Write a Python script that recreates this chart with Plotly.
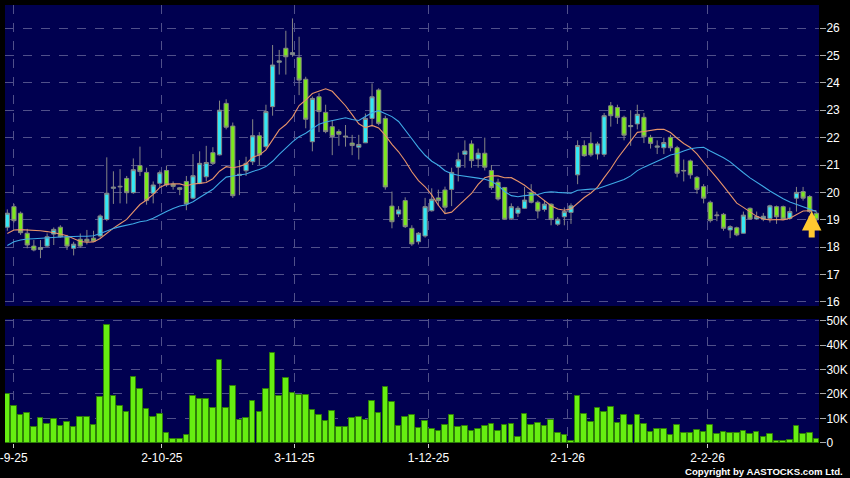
import plotly.graph_objects as go
import pandas as pd

# ---------------- data ----------------
opens = [18.73,19.48,19.24,18.51,18.04,17.92,18.04,18.48,18.73,18.38,
         17.96,18.29,18.29,18.33,18.41,19.01,20.15,20.2,20.51,19.99,
         20.98,20.73,19.97,20.33,20.8,20.3,20.17,20.4,19.79,20.33,
         20.57,21.45,21.37,23.25,22.42,20.62,20.79,21.12,22.07,21.67,
         23.13,24.75,25.26,25.03,24.93,24.13,21.85,23.49,22.92,22.4,
         22.22,22.02,21.8,21.65,21.81,22.7,23.74,22.7,19.5,19.21,
         19.7,18.69,18.2,18.41,19.33,19.8,20.09,20.11,20.92,21.39,
         21.77,21.22,21.43,20.8,20.37,20.18,19.05,19.24,19.42,20.0,
         19.64,19.38,19.57,18.84,19.11,19.27,20.64,21.71,21.79,21.4,
         21.39,23.16,23.1,22.74,22.4,22.5,22.74,22.01,21.65,21.63,
         22.01,21.63,20.78,21.15,20.55,20.21,19.64,19.15,19.2,18.63,
         18.71,18.51,19.42,19.03,19.03,19.05,19.48,19.48,19.05,19.79,
         20.03,19.85,19.24]
closes = [19.24,18.97,18.53,18.08,17.9,17.99,18.38,18.65,18.38,18.04,
          18.11,18.04,18.22,18.22,19.14,19.97,20.19,20.22,19.99,20.83,
          20.76,19.71,20.27,20.72,20.27,20.22,20.11,19.58,20.61,21.06,
          21.09,21.06,23.0,22.38,19.88,20.66,21.06,22.07,21.37,22.95,
          24.65,24.8,24.95,25.1,24.1,22.67,23.43,22.95,22.22,22.04,
          22.12,22.05,21.71,21.75,22.7,23.49,22.52,20.2,18.93,19.36,
          18.75,18.12,18.51,19.48,19.75,19.7,19.46,20.73,21.19,21.51,
          21.16,21.43,20.92,20.18,19.76,19.02,19.48,19.42,19.72,19.64,
          19.32,19.57,19.01,19.02,19.3,19.51,21.71,21.34,21.37,21.77,
          22.8,22.8,22.74,22.09,22.44,22.85,22.03,21.79,21.69,21.82,
          21.63,20.7,20.8,20.64,20.11,19.79,18.97,19.17,18.69,18.75,
          18.45,19.17,19.03,19.12,19.13,19.51,19.11,19.03,19.3,20.0,
          19.79,19.3,19.0]
highs = [19.38,19.58,19.3,18.67,18.26,18.26,18.5,18.72,18.8,18.45,
         18.2,18.5,18.63,18.6,19.2,21.28,20.77,20.85,20.6,21.24,
         21.67,20.9,20.4,20.8,20.98,20.4,20.2,20.6,21.4,21.5,
         21.7,21.65,23.35,23.4,22.55,21.18,21.3,22.67,22.2,23.2,
         25.38,25.2,25.9,26.35,25.68,24.22,23.5,23.62,23.2,22.64,
         22.3,22.46,22.1,22.1,22.88,23.98,23.8,22.8,20.03,19.5,
         19.82,18.8,18.55,19.8,20.15,20.1,20.21,20.9,21.45,21.9,
         21.9,21.6,22.0,21.0,20.5,20.2,19.6,19.5,20.2,20.3,
         19.7,19.7,19.6,19.1,19.45,19.6,21.9,21.9,22.2,21.85,
         22.9,23.3,23.2,22.8,23.0,23.2,22.9,22.1,21.9,22.0,
         22.1,21.7,21.2,21.2,20.6,20.3,19.7,19.3,19.25,18.8,
         18.75,19.3,19.45,19.3,19.25,19.55,19.52,19.52,19.45,20.2,
         20.2,19.9,19.3]
lows = [18.6,18.9,18.45,17.96,17.85,17.6,18.0,18.08,18.35,17.9,
        17.7,17.98,18.1,18.2,18.35,18.95,19.58,19.6,19.59,19.95,
        20.6,19.55,19.6,20.2,20.2,20.1,19.9,19.35,19.75,20.3,
        20.4,21.0,21.35,22.3,19.8,19.9,20.6,21.0,21.0,21.6,
        22.8,24.3,24.3,24.95,23.55,22.34,21.5,22.2,22.16,21.36,
        21.7,21.67,21.36,21.2,21.8,22.4,22.45,20.1,18.69,19.1,
        18.7,18.05,18.1,18.35,19.3,19.5,19.21,19.5,20.4,20.9,
        20.9,20.9,20.8,20.1,19.7,19.0,19.0,19.1,19.4,19.6,
        19.05,19.3,18.8,18.78,18.8,18.85,20.3,21.3,21.3,21.2,
        21.3,22.4,22.5,21.9,21.7,22.3,21.8,21.6,21.4,21.4,
        21.5,20.55,20.4,20.5,19.95,19.6,18.9,18.95,18.6,18.33,
        18.4,18.5,19.0,19.0,18.95,18.9,18.85,19.0,19.0,19.3,
        19.7,19.25,18.95]
volumes_k = [19.8,14.9,11.3,12.2,6.3,10.1,7.6,9.6,6.7,8.3,
             6.4,10.6,10.6,7.2,18.8,48.4,19.0,14.9,12.6,27.0,
             22.1,13.9,10.7,11.8,4.1,1.5,1.4,3.1,19.3,17.8,
             18.1,14.3,33.8,14.1,23.4,9.5,10.1,17.3,12.6,22.1,
             36.8,19.0,26.6,20.4,19.4,19.4,13.3,11.5,9.0,12.9,
             6.4,6.4,10.1,10.5,9.5,17.3,12.0,22.8,16.8,6.7,
             10.7,11.3,6.0,8.8,5.6,4.9,7.1,11.3,6.4,6.7,
             4.6,5.8,6.7,7.7,4.8,7.1,7.5,2.4,11.8,7.1,
             8.0,6.8,9.1,4.1,3.3,0.7,19.2,11.8,8.3,14.3,
             12.5,14.7,7.9,11.4,7.2,11.3,7.6,4.5,5.4,5.4,
             3.1,7.1,4.1,4.1,5.2,4.2,7.1,3.4,4.3,3.8,
             3.8,4.6,3.7,4.2,2.3,3.4,0.5,0.5,1.1,6.9,
             3.7,3.8,1.4]
# moving-average values before enough closes are on the chart
ma10_lead = [18.5,18.63,18.64,18.63,18.62,18.6,18.57,18.53,18.48]
ma20_lead = [18.06,18.2,18.26,18.3,18.31,18.33,18.33,18.35,18.37,18.38,
             18.4,18.4,18.4,18.42,18.5,18.6,18.68,18.75,18.8]

date_tick_pos = [1.0, 23.3, 43.3, 63.5, 84.5, 105.6]
date_tick_labels = ["1-9-25", "2-10-25", "3-11-25", "1-12-25", "2-1-26", "2-2-26"]
price_ticks = list(range(16, 27))
vol_ticks = [0, 10, 20, 30, 40, 50]
vol_tick_labels = ["0", "10K", "20K", "30K", "40K", "50K"]

# ---------------- derived ----------------
n = len(closes)
xs = list(range(n))
cs = pd.Series(closes)
ma10 = cs.rolling(10).mean().tolist()
ma20 = cs.rolling(20).mean().tolist()
ma10[:len(ma10_lead)] = ma10_lead
ma20[:len(ma20_lead)] = ma20_lead

X_RANGE = [-0.35, 122.4]
BG = "#000050"
GRID = "#50508a"
FONT = dict(family="Arial, Liberation Sans, sans-serif", size=12, color="white")

fig = go.Figure()
fig.add_trace(go.Candlestick(
    x=xs, open=opens, high=highs, low=lows, close=closes,
    increasing=dict(fillcolor="#33E8F5", line=dict(color="#858585", width=1)),
    decreasing=dict(fillcolor="#7CE81E", line=dict(color="#858585", width=1)),
    whiskerwidth=0, xaxis="x", yaxis="y", hoverinfo="skip"))
fig.add_trace(go.Scatter(x=xs, y=ma10, mode="lines", hoverinfo="skip",
                         line=dict(color="#E8946A", width=1.1), xaxis="x", yaxis="y"))
fig.add_trace(go.Scatter(x=xs, y=ma20, mode="lines", hoverinfo="skip",
                         line=dict(color="#3FAAE6", width=1.1), xaxis="x", yaxis="y"))
fig.add_trace(go.Bar(x=xs, y=volumes_k, width=0.84, hoverinfo="skip",
                     marker=dict(color="#66EE11", line=dict(color="#2F7F08", width=1)),
                     xaxis="x2", yaxis="y2"))

axis_common = dict(showline=False, zeroline=False, gridcolor=GRID, griddash="dash",
                   gridwidth=1, tickfont=FONT, automargin=False)

# first date label is partly outside the page on the left, so it is drawn as an annotation
first_label_x = (date_tick_pos[0] - 0.45 - X_RANGE[0]) / (X_RANGE[1] - X_RANGE[0])

fig.update_layout(
    width=850, height=478,
    margin=dict(l=5, r=31, t=5, b=35),
    paper_bgcolor="black", plot_bgcolor=BG,
    showlegend=False, boxgap=0.1, bargap=0,
    xaxis=dict(domain=[0, 1], anchor="y", matches="x2", showticklabels=False,
               tickvals=date_tick_pos, range=X_RANGE,
               rangeslider=dict(visible=False), ticks="", **axis_common),
    xaxis2=dict(domain=[0, 1], anchor="y2", tickvals=date_tick_pos,
                ticktext=[""] + date_tick_labels[1:], range=X_RANGE,
                ticks="outside", ticklen=4, tickcolor="#cccccc",
                **axis_common),
    yaxis=dict(domain=[0.3128, 1], anchor="x", side="right",
               range=[15.854, 26.84], tickvals=price_ticks,
               ticks="outside", ticklen=6, tickcolor="#aaaaaa",
               ticklabelstandoff=-2, **axis_common),
    yaxis2=dict(domain=[0, 0.2831], anchor="x2", side="right",
                range=[-0.15, 50.8], tickvals=vol_ticks, ticktext=vol_tick_labels,
                ticks="outside", ticklen=6, tickcolor="#aaaaaa",
                ticklabelstandoff=-2, **axis_common),
    annotations=[
        dict(x=121.3, y=19.32, xref="x", yref="y", text="", showarrow=True,
             ax=0, ay=28, arrowhead=2, arrowsize=0.65, arrowwidth=6,
             arrowcolor="#FFC830"),
        dict(x=first_label_x, y=-0.034, xref="paper", yref="paper", xanchor="center",
             yanchor="middle", showarrow=False, text=date_tick_labels[0], font=FONT),
        dict(x=1.0, y=-0.065, xref="paper", yref="paper", xanchor="right",
             yanchor="middle", showarrow=False, xshift=26,
             text="<b>Copyright by AASTOCKS.com Ltd.</b>",
             font=dict(family="Arial, Liberation Sans, sans-serif", size=9.6, color="white")),
    ],
)

# the page's default body margin would shift the chart; remove it
fig.write_html("out.html", config={"displayModeBar": False},
               post_script="document.body.style.margin='0';")
